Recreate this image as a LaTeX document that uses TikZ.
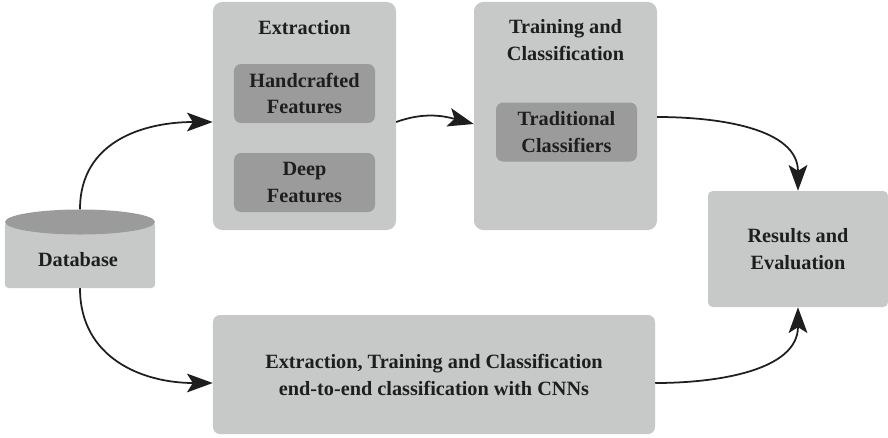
\documentclass[tikz,border=0pt]{standalone}
\usepackage{fontspec}
\setmainfont{Liberation Serif}
\usepackage{xcolor}
\usetikzlibrary{shapes.geometric, arrows.meta, positioning, calc}

\definecolor{boxgray}{HTML}{C7C8C8}
\definecolor{innergray}{HTML}{9B9B9B}
\definecolor{inkgray}{HTML}{1E1E1E}

\begin{document}
\begin{tikzpicture}[
    x=0.03cm, y=-0.03cm,
    every node/.style={font=\fontsize{17.3}{23}\selectfont\bfseries, align=center, text=inkgray},
    stage/.style={rectangle, fill=boxgray, rounded corners=8pt, inner sep=0pt},
    feature/.style={rectangle, fill=innergray, rounded corners=6pt, minimum width=4.23cm, minimum height=1.77cm},
    arrow/.style={-{Stealth[length=22pt, width=16pt, inset=5pt]}, line width=1.5pt, draw=inkgray}
]
\useasboundingbox (0,0) rectangle (888,437);

% Database
\node (db) [stage, rounded corners=3pt, minimum width=4.5cm, minimum height=1.98cm] at (80,255) {};
\node (dbtop) [ellipse, fill=innergray, minimum width=4.5cm, minimum height=0.75cm, inner sep=0pt] at (80,222) {};
\node (dblabel) at (78,260) {Database};

% Extraction
\node (extract) [stage, minimum width=5.49cm, minimum height=6.84cm] at (304.5,116) {};
\node (extracttitle) at (304.5,28) {Extraction};
\node (hand) [feature] at (304.5,93.5) {Handcrafted\\Features};
\node (deep) [feature] at (304.5,182.5) {Deep\\Features};

% Training and Classification
\node (train) [stage, minimum width=5.49cm, minimum height=6.84cm] at (565.5,116) {};
\node (traintitle) at (565.5,40) {Training and\\Classification};
\node (classif) [feature] at (566.5,132) {Traditional\\Classifiers};

% Results and Evaluation
\node (results) [stage, rounded corners=4pt, minimum width=5.4cm, minimum height=3.48cm] at (798,249) {Results and\\Evaluation};

% End-to-end CNN
\node (cnn) [stage, rounded corners=6pt, minimum width=13.26cm, minimum height=3.57cm] at (434,374.5)
    {Extraction, Training and Classification\\end-to-end classification with CNNs};

% Arrows
\draw [arrow] (dbtop.north) to[out=90, in=180, looseness=1.1] (extract.west |- 0,122);
\draw [arrow] (extract.east |- 0,122) to[out=20, in=165] (train.west |- 0,124);
\draw [arrow] (train.east |- 0,117) to[out=0, in=90] (results.north);
\draw [arrow] (db.south) to[out=-90, in=180, looseness=1.1] (cnn.west |- 0,383);
\draw [arrow] (cnn.east |- 0,383) to[out=0, in=-90] (results.south);

\end{tikzpicture}
\end{document}
